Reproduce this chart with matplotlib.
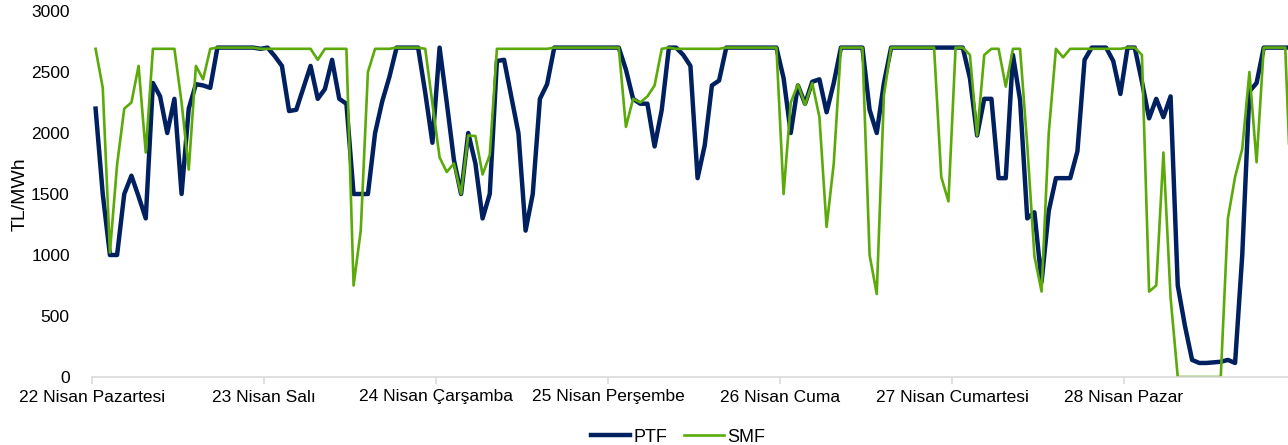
"""
PTF / SMF hourly prices, 22-28 Nisan
"""

import matplotlib
matplotlib.use('Agg')
import matplotlib.pyplot as plt

days = ['22 Nisan Pazartesi', '23 Nisan Salı', '24 Nisan Çarşamba', '25 Nisan Perşembe',
        '26 Nisan Cuma', '27 Nisan Cumartesi', '28 Nisan Pazar']

ptf = [2200, 1500, 1000, 1000, 1500, 1650, 1480, 1300, 2410, 2300, 2000, 2280,
       1500, 2200, 2400, 2390, 2370, 2700, 2700, 2700, 2700, 2700, 2700, 2690,
       2700, 2630, 2550, 2180, 2190, 2370, 2550, 2280, 2360, 2600, 2280, 2240,
       1500, 1500, 1500, 2000, 2260, 2460, 2700, 2700, 2700, 2700, 2330, 1920,
       2700, 2250, 1780, 1500, 2000, 1750, 1300, 1500, 2590, 2600, 2300, 2000,
       1200, 1500, 2280, 2400, 2700, 2700, 2700, 2700, 2700, 2700, 2700, 2700,
       2700, 2700, 2520, 2280, 2240, 2240, 1890, 2190, 2700, 2700, 2640, 2550,
       1630, 1900, 2390, 2430, 2700, 2700, 2700, 2700, 2700, 2700, 2700, 2700,
       2450, 2000, 2390, 2240, 2420, 2440, 2170, 2410, 2700, 2700, 2700, 2700,
       2190, 2000, 2410, 2700, 2700, 2700, 2700, 2700, 2700, 2700, 2700, 2700,
       2700, 2700, 2450, 1980, 2280, 2280, 1630, 1630, 2640, 2270, 1300, 1350,
       780, 1360, 1630, 1630, 1630, 1850, 2600, 2700, 2700, 2700, 2590, 2320,
       2700, 2700, 2420, 2120, 2280, 2130, 2300, 750, 420, 140, 115, 115,
       120, 125, 140, 115, 1000, 2340, 2410, 2700, 2700, 2700, 2700, 2700]

smf = [2690, 2370, 1020, 1740, 2200, 2250, 2550, 1840, 2690, 2690, 2690, 2690,
       2250, 1700, 2550, 2440, 2690, 2700, 2700, 2700, 2700, 2700, 2700, 2690,
       2690, 2690, 2690, 2690, 2690, 2690, 2690, 2600, 2690, 2690, 2690, 2690,
       750, 1200, 2500, 2690, 2690, 2690, 2700, 2700, 2700, 2700, 2690, 2240,
       1800, 1680, 1750, 1500, 1980, 1975, 1660, 1820, 2690, 2690, 2690, 2690,
       2690, 2690, 2690, 2690, 2700, 2700, 2700, 2700, 2700, 2700, 2700, 2700,
       2700, 2700, 2050, 2280, 2250, 2300, 2390, 2690, 2700, 2690, 2690, 2690,
       2690, 2690, 2690, 2690, 2700, 2700, 2700, 2700, 2700, 2700, 2700, 2700,
       1500, 2250, 2400, 2230, 2410, 2130, 1230, 1750, 2700, 2700, 2700, 2700,
       1000, 680, 2310, 2700, 2700, 2700, 2700, 2700, 2700, 2700, 1640, 1440,
       2700, 2700, 2640, 1980, 2640, 2690, 2690, 2380, 2690, 2690, 1900, 990,
       700, 2000, 2690, 2620, 2690, 2690, 2690, 2690, 2690, 2690, 2690, 2690,
       2700, 2700, 2640, 700, 750, 1840, 650, 0, 0, 0, 0, 0,
       0, 0, 1300, 1640, 1870, 2500, 1760, 2700, 2700, 2700, 2700, 1200]

plt.rcParams['font.family'] = ['Liberation Sans', 'DejaVu Sans']

fig = plt.figure(figsize=(12.88, 4.45), dpi=100)
ax = fig.add_axes([92 / 1288, 68 / 445, 1204 / 1288, 366 / 445])

hours = range(len(ptf))
ax.plot(hours, ptf, color='#002060', linewidth=3.2, label='PTF')
ax.plot(hours, smf, color='#5BAA0A', linewidth=1.9, label='SMF')

ax.set_xlim(-0.5, len(ptf) - 0.5)
ax.set_ylim(0, 3000)
ax.set_yticks(range(0, 3001, 500))
ax.set_xticks([d * 24 - 0.5 for d in range(len(days))])
ax.set_xticklabels(days)

for s in ['top', 'right', 'left']:
    ax.spines[s].set_visible(False)
ax.spines['bottom'].set_color('#d9d9d9')
ax.spines['bottom'].set_linewidth(1.2)

ax.tick_params(axis='y', length=0, pad=16, labelsize=12.5, labelcolor='#000000')
ax.tick_params(axis='x', length=5, color='#d9d9d9', width=1.2, pad=4, labelsize=12.5)
ax.set_ylabel('TL/MWh', fontsize=14, labelpad=2)

fig.legend(loc='center', bbox_to_anchor=(678 / 1288, 8 / 445), ncol=2, frameon=False,
           fontsize=13, handlelength=2.2, handletextpad=0.2, columnspacing=0.9)

fig.savefig('out.png', dpi=100)
